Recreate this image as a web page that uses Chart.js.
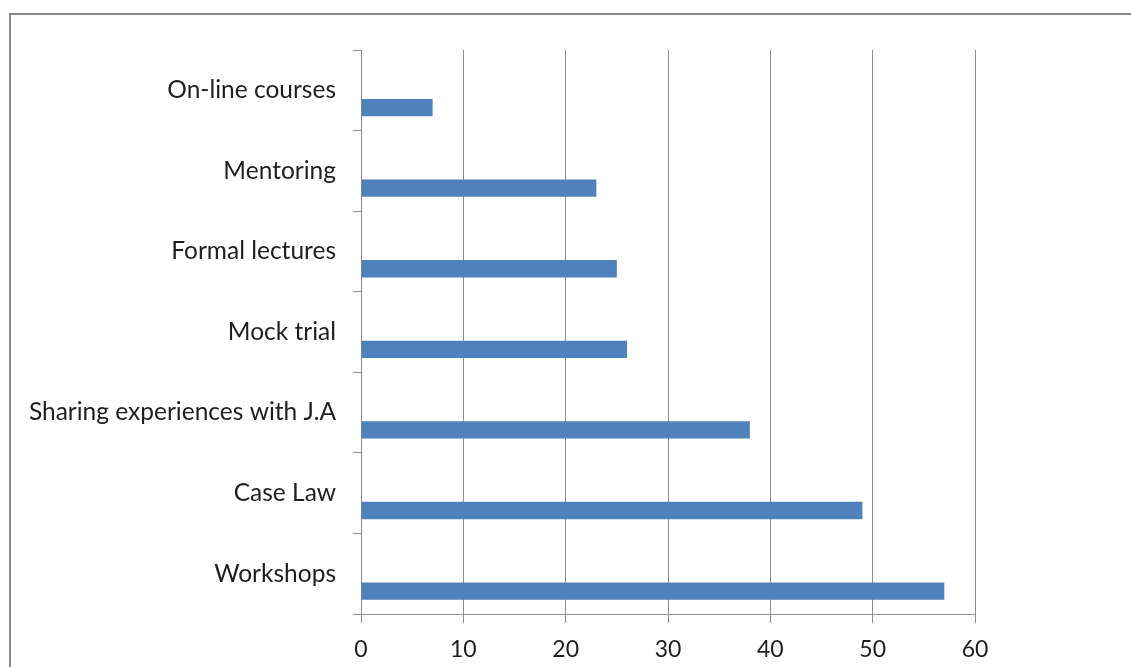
<!DOCTYPE html>
<html>
<head>
<meta charset="utf-8">
<script src="https://cdn.jsdelivr.net/npm/chart.js@4/dist/chart.umd.min.js"></script>
<style>
  html, body { margin: 0; padding: 0; background: #ffffff; }
  #wrap { position: relative; width: 1131px; height: 667px; overflow: hidden; background: #ffffff; }
  #frame { position: absolute; left: 9px; top: 13px; width: 2000px; height: 2000px; border: 2px solid #8a8a8a; box-sizing: border-box; }
  #c { position: absolute; left: 0; top: 0; }
</style>
</head>
<body>
<div id="wrap">
  <div id="frame"></div>
  <canvas id="c" width="1131" height="667"></canvas>
</div>
<script>
const categories = ['On-line courses', 'Mentoring', 'Formal lectures', 'Mock trial', 'Sharing experiences with J.A', 'Case Law', 'Workshops'];
const values = [7, 23, 25, 26, 38, 49, 57];
const emptySeriesA = [null, null, null, null, null, null, null];
const emptySeriesB = [null, null, null, null, null, null, null];
const xTicks = [0, 10, 20, 30, 40, 50, 60];

const gridColor = '#8c8c8c';
const textColor = '#1e1e1e';
const fontFamily = 'Lato, "Open Sans", "DejaVu Sans", sans-serif';

new Chart(document.getElementById('c'), {
  type: 'bar',
  data: {
    labels: categories,
    datasets: [
      { label: 'A', data: emptySeriesA, backgroundColor: '#4F81BD' },
      { label: 'B', data: emptySeriesB, backgroundColor: '#4F81BD' },
      { label: 'Series', data: values, backgroundColor: '#4F81BD' }
    ]
  },
  options: {
    indexAxis: 'y',
    responsive: false,
    animation: false,
    devicePixelRatio: 1,
    layout: { padding: { left: 0, right: 156, top: 50, bottom: 0 } },
    datasets: { bar: { categoryPercentage: 0.645, barPercentage: 1.0 } },
    plugins: { legend: { display: false }, tooltip: { enabled: false } },
    scales: {
      x: {
        min: xTicks[0],
        max: xTicks[xTicks.length - 1],
        afterBuildTicks: (scale) => { scale.ticks = xTicks.map(v => ({ value: v })); },
        afterFit: (scale) => { scale.height = 53; },
        grid: { color: gridColor, lineWidth: 1, tickLength: 9, drawOnChartArea: true },
        border: { color: gridColor, width: 1 },
        ticks: { color: textColor, font: { family: fontFamily, size: 23 }, padding: 13 }
      },
      y: {
        afterFit: (scale) => { scale.width = 361; },
        grid: { offset: true, color: gridColor, lineWidth: 1, tickLength: 8, drawOnChartArea: false },
        border: { color: gridColor, width: 1 },
        ticks: { color: textColor, font: { family: fontFamily, size: 24.5 }, padding: 17 }
      }
    }
  }
});
</script>
</body>
</html>
